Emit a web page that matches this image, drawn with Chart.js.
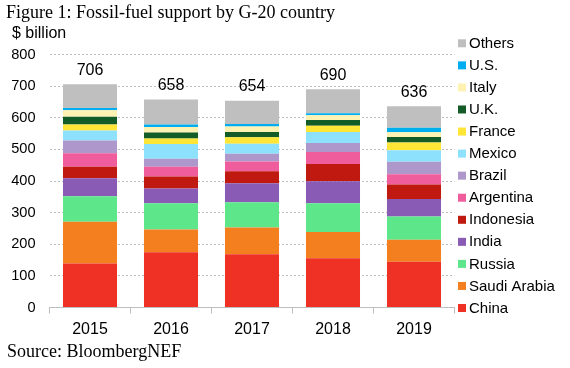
<!DOCTYPE html>
<html>
<head>
<meta charset="utf-8">
<script src="https://cdn.jsdelivr.net/npm/chart.js@4"></script>
<style>
  html, body { margin: 0; padding: 0; background: #ffffff; }
  #wrap { width: 570px; height: 368px; position: relative; }
</style>
</head>
<body>
<div id="wrap"><canvas id="c" width="570" height="368"></canvas></div>
<script>
const years = ['2015', '2016', '2017', '2018', '2019'];
const titleText = 'Figure 1: Fossil-fuel support by G-20 country';
const unitText = '$ billion';
const sourceText = 'Source: BloombergNEF';

const china      = [139, 175, 168, 156, 145];
const saudi      = [132,  72,  85,  83,  69];
const russia     = [ 81,  83,  80,  91,  74];
const india      = [ 57,  46,  60,  69,  55];
const indonesia  = [ 36,  38,  38,  55,  46];
const argentina  = [ 43,  31,  31,  38,  32];
const brazil     = [ 40,  25,  24,  28,  40];
const mexico     = [ 32,  47,  32,  35,  36];
const france     = [ 19,  17,  20,  20,  25];
const uk         = [ 24,  19,  17,  18,  17];
const italy      = [ 21,  18,  17,  15,  15];
const us         = [  7,   8,   8,   6,  14];
const others     = [ 75,  79,  74,  76,  68];

const seriesNames = ['China', 'Saudi Arabia', 'Russia', 'India', 'Indonesia', 'Argentina',
  'Brazil', 'Mexico', 'France', 'U.K.', 'Italy', 'U.S.', 'Others'];
const seriesData = [china, saudi, russia, india, indonesia, argentina, brazil, mexico,
  france, uk, italy, us, others];
const seriesColors = ['#EE3124', '#F47F1F', '#5EE68B', '#8A5BB5', '#C0190F', '#F05D9C',
  '#AE97CA', '#8DE1FC', '#FFE535', '#135B27', '#FEF2B3', '#00AEEF', '#BFBFBF'];

const yTicks = [0, 100, 200, 300, 400, 500, 600, 700, 800];

const datasets = seriesNames.map((n, i) => ({
  label: n,
  data: seriesData[i],
  backgroundColor: seriesColors[i],
  borderWidth: 0,
  barPercentage: 0.667,
  categoryPercentage: 1.0
}));

const decor = {
  id: 'decor',
  afterDraw(chart) {
    const ctx = chart.ctx;
    ctx.save();
    ctx.fillStyle = '#000';
    ctx.textBaseline = 'middle';
    ctx.textAlign = 'left';
    ctx.font = '18px "Liberation Serif", "Times New Roman", serif';
    ctx.fillText(titleText, 6, 13);
    ctx.font = '16px "Liberation Sans", Arial, sans-serif';
    ctx.fillText(unitText, 12, 34);
    ctx.font = '18px "Liberation Serif", "Times New Roman", serif';
    ctx.fillText(sourceText, 7, 352);

    const n = chart.data.labels.length;
    const lastMeta = chart.getDatasetMeta(chart.data.datasets.length - 1);
    ctx.font = '16px "Liberation Sans", Arial, sans-serif';
    ctx.textAlign = 'center';
    for (let j = 0; j < n; j++) {
      let tot = 0;
      chart.data.datasets.forEach(ds => { tot += ds.data[j]; });
      const bar = lastMeta.data[j];
      ctx.fillText(String(tot), bar.x, bar.y - 14);
    }

    const dsList = chart.data.datasets;
    const x0 = 458, yTop = 43.3, step = 22.06;
    ctx.textAlign = 'left';
    ctx.font = '15px "Liberation Sans", Arial, sans-serif';
    for (let k = 0; k < dsList.length; k++) {
      const ds = dsList[dsList.length - 1 - k];
      const y = yTop + k * step;
      ctx.fillStyle = ds.backgroundColor;
      ctx.fillRect(x0, y - 4, 8, 8);
      ctx.fillStyle = '#000';
      ctx.fillText(ds.label, x0 + 11, y + 0.5);
    }
    ctx.restore();
  }
};

new Chart(document.getElementById('c'), {
  type: 'bar',
  data: { labels: years, datasets: datasets },
  options: {
    responsive: false,
    animation: false,
    devicePixelRatio: 1,
    layout: { padding: { top: 54.5, right: 115.5, bottom: 0, left: 0 } },
    plugins: {
      legend: { display: false },
      title: { display: false },
      tooltip: { enabled: false }
    },
    scales: {
      x: {
        stacked: true,
        afterFit(s) { s.height = 60.5; },
        grid: {
          display: true,
          drawOnChartArea: false,
          drawTicks: true,
          tickLength: 6,
          color: '#BFBFBF',
          offset: true
        },
        border: { display: true, color: '#BFBFBF', width: 1 },
        ticks: {
          color: '#000',
          padding: 6,
          font: { family: '"Liberation Sans", Arial, sans-serif', size: 16 }
        }
      },
      y: {
        stacked: true,
        min: 0,
        max: 800,
        afterFit(s) { s.width = 49.5; },
        afterBuildTicks(s) { s.ticks = yTicks.map(v => ({ value: v })); },
        grid: {
          color: '#BDBDBD',
          drawTicks: false,
          lineWidth: 1
        },
        border: { display: false, dash: [2, 2] },
        ticks: {
          color: '#000',
          padding: 14,
          font: { family: '"Liberation Sans", Arial, sans-serif', size: 14.6 }
        }
      }
    }
  },
  plugins: [decor]
});
</script>
</body>
</html>
